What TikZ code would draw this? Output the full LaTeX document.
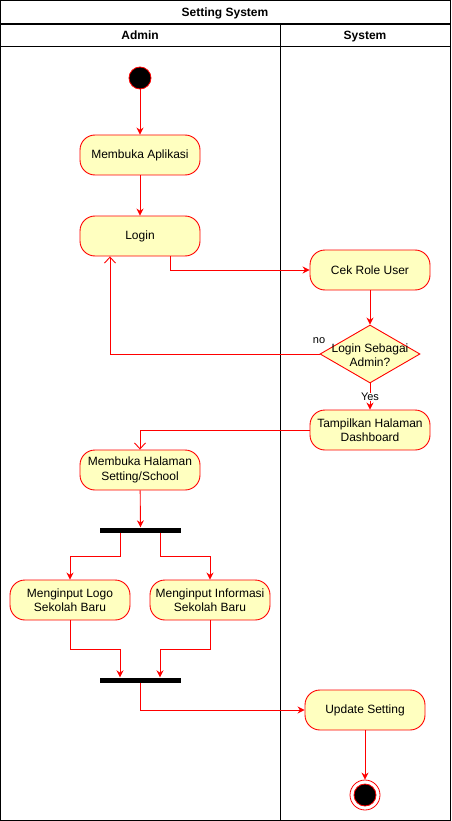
\documentclass[tikz,border=0pt]{standalone}
\usepackage{fontspec}
\setmainfont{Liberation Sans}
\usetikzlibrary{shapes.geometric,arrows.meta}
\definecolor{actfill}{HTML}{FFFFC0}
\definecolor{actred}{HTML}{FF0000}
\begin{document}
\begin{tikzpicture}[x=1pt,y=-1pt, font=\fontsize{12}{14.5}\selectfont,
 act/.style={draw=actred, fill=actfill, rounded corners=15pt, minimum width=120pt, minimum height=40pt, inner sep=0pt, align=center, line width=0.9pt},
 flow/.style={draw=actred, line width=0.9pt, -{Stealth[length=7pt,width=7pt]}},
 back/.style={draw=actred, line width=0.9pt, -{Straight Barb[length=6pt,width=11pt]}},
 bar/.style={fill=black, minimum width=81pt, minimum height=5pt, inner sep=0pt},
 hdr/.style={font=\fontsize{12}{14}\selectfont\bfseries, anchor=base, inner sep=0pt},
 ]
\useasboundingbox (0,0) rectangle (451,821);
% swimlanes
\draw[line width=1.2pt] (0.6,0.6) rectangle (450.4,820.4);
\draw[line width=1.6pt] (0.6,24) -- (450.4,24);
\draw[line width=1pt] (0.6,47) -- (450.4,47);
\draw[line width=1pt] (280,24) -- (280,820.4);
\node[hdr] (title) at (225,16.5) {Setting System};
\node[hdr] (ladmin) at (140,40) {Admin};
\node[hdr] (lsys) at (365,40) {System};
% nodes
\node[circle, fill=black, draw=actred, minimum size=22pt, inner sep=0pt, line width=0.8pt] (start) at (140,78) {};
\node[act] (buka) at (140,155) {Membuka Aplikasi};
\node[act] (login) at (140,236) {Login};
\node[act] (cek) at (370,270) {Cek Role User};
\node[diamond, draw=actred, fill=actfill, minimum width=100pt, minimum height=58pt, inner sep=0pt, aspect=1.72, line width=0.9pt] (dec) at (370,354) {};
\node[align=center] (dectext) at (370,355) {Login Sebagai\\Admin?};
\node[act] (tamp) at (370,430) {Tampilkan Halaman\\Dashboard};
\node[act] (mh) at (140,470) {Membuka Halaman\\Setting/School};
\node[bar] (fork) at (140.5,530) {};
\node[act] (logo) at (70,600) {Menginput Logo\\Sekolah Baru};
\node[act] (info) at (210,600) {Menginput Informasi\\Sekolah Baru};
\node[bar] (join) at (140.5,680) {};
\node[act] (upd) at (365,710) {Update Setting};
\node[circle, draw=actred, fill=white, minimum size=30pt, inner sep=0pt, line width=0.8pt] (end) at (365,795) {};
\node[circle, draw=actred, fill=black, minimum size=22pt, inner sep=0pt, line width=0.8pt] (endin) at (365,795) {};
% edges
\draw[flow] (start) -- (buka);
\draw[flow] (buka) -- (login);
\draw[flow] ([xshift=30pt]login.south) |- (cek.west);
\draw[flow] (cek) -- (dec.north);
\draw[back] (dec.west) -| ([xshift=-30pt]login.south);
\node[font=\fontsize{11}{13}\selectfont] (no) at (319,341) {no};
\draw[flow] (dec.south) -- (tamp.north);
\node[fill=white, inner sep=0.5pt, font=\fontsize{11}{13}\selectfont] (yes) at (370,397) {Yes};
\draw[back] (tamp.west) -| (mh.north);
\draw[flow] (mh) -- (fork);
\draw[flow] ([xshift=-20.5pt]fork.south) -- ++(0,24) -| (logo.north);
\draw[flow] ([xshift=19.5pt]fork.south) -- ++(0,24) -| (info.north);
\draw[flow] (logo.south) -- ++(0,29) -| ([xshift=-20.5pt]join.north);
\draw[flow] (info.south) -- ++(0,29) -| ([xshift=19.5pt]join.north);
\draw[flow] (join.south) |- (upd.west);
\draw[flow] (upd.south) -- (end.north);
\end{tikzpicture}
\end{document}
